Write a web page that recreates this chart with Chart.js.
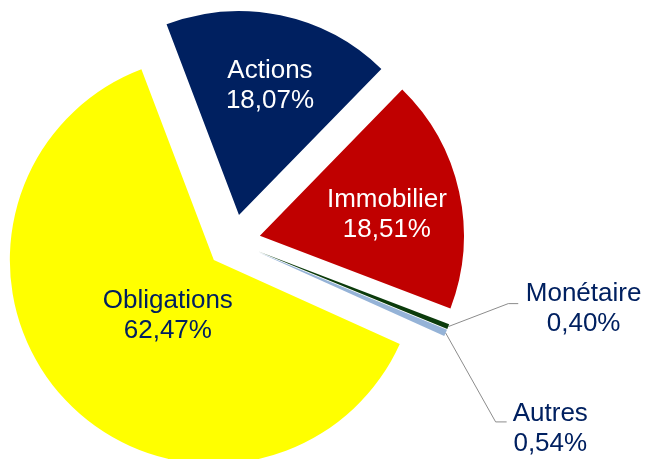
<!DOCTYPE html>
<html>
<head>
<meta charset="utf-8">
<script src="https://cdn.jsdelivr.net/npm/chart.js@4/dist/chart.umd.min.js"></script>
<style>
  html, body { margin: 0; padding: 0; background: #fff; }
  #wrap { width: 645px; height: 459px; position: relative; }
</style>
</head>
<body>
<div id="wrap"><canvas id="myChart"></canvas></div>
<script>
// data
var categories = ['Actions', 'Immobilier', 'Monétaire', 'Autres', 'Obligations'];
var values = [18.07, 18.51, 0.40, 0.54, 62.47];
var valueLabels = ['18,07%', '18,51%', '0,40%', '0,54%', '62,47%'];
var colors = ['#002060', '#C00000', '#0B3B0B', '#95B3D7', '#FFFF00'];
var textColors = ['#FFFFFF', '#FFFFFF', '#002060', '#002060', '#002060'];

var EXPLODE = 27;
var FONT = '26px "Liberation Sans", Arial, sans-serif';

// label placement, relative to each (exploded) slice centre: first baseline
// leader = elbow offset from the slice's outer mid point (null = inside label)
var labelPos = [
  { dx: 31, dy: -137, leader: null },
  { dx: 127, dy: -29, leader: null },
  { dx: 325, dy: 50, leader: [60, -23, 10] },
  { dx: 292, dy: 169, leader: [50, 89, 11] },
  { dx: -46, dy: 48, leader: null }
];

// push every slice out from the centre, like an exploded pie
var explodePlugin = {
  id: 'explode',
  afterDatasetUpdate: function(chart, args) {
    args.meta.data.forEach(function(arc) {
      var mid = (arc.startAngle + arc.endAngle) / 2;
      arc.x += Math.cos(mid) * EXPLODE;
      arc.y += Math.sin(mid) * EXPLODE;
    });
  }
};

var labelPlugin = {
  id: 'sliceLabels',
  afterDatasetsDraw: function(chart) {
    var ctx = chart.ctx;
    var arcs = chart.getDatasetMeta(0).data;
    ctx.save();
    ctx.font = FONT;
    ctx.textAlign = 'center';
    ctx.textBaseline = 'alphabetic';
    arcs.forEach(function(arc, i) {
      var p = labelPos[i];
      var x = arc.x + p.dx;
      var y = arc.y + p.dy;
      if (p.leader) {
        var mid = (arc.startAngle + arc.endAngle) / 2;
        var ox = arc.x + Math.cos(mid) * arc.outerRadius;
        var oy = arc.y + Math.sin(mid) * arc.outerRadius;
        var ex = ox + p.leader[0], ey = oy + p.leader[1];
        ctx.strokeStyle = '#8C8C8C';
        ctx.lineWidth = 1;
        ctx.beginPath();
        ctx.moveTo(ox, oy);
        ctx.lineTo(ex, ey);
        ctx.lineTo(ex + p.leader[2], ey);
        ctx.stroke();
      }
      ctx.fillStyle = textColors[i];
      ctx.fillText(categories[i], x, y);
      ctx.fillText(valueLabels[i], x, y + 30);
    });
    ctx.restore();
  }
};

var ctx = document.getElementById('myChart');

var myChart = new Chart(ctx, {
  type: 'pie',
  data: {
    labels: categories,
    datasets: [{
      data: values,
      backgroundColor: colors,
      borderWidth: 0,
      clip: false
    }]
  },
  options: {
    responsive: true,
    maintainAspectRatio: false,
    animation: false,
    events: [],
    rotation: -20.8,
    radius: 204,
    layout: {
      padding: { left: 0, right: 178, top: 24, bottom: 0 }
    },
    plugins: {
      legend: { display: false },
      tooltip: { enabled: false }
    }
  },
  plugins: [explodePlugin, labelPlugin]
});
</script>
</body>
</html>
